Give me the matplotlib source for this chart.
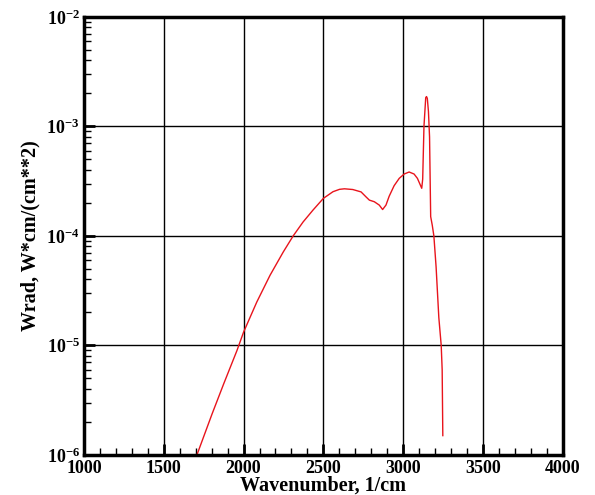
import matplotlib.pyplot as plt
import numpy as np
from matplotlib.ticker import MultipleLocator, LogLocator, FixedLocator

# spectrum
wavenumber = [1708, 1803, 1876, 1959, 2000, 2083, 2166, 2249, 2311, 2373,
              2435, 2500, 2560, 2601, 2632, 2684, 2736, 2767, 2788, 2819,
              2850, 2871, 2892, 2912, 2943, 2975, 3006, 3037, 3068, 3089,
              3116, 3122, 3130, 3141, 3146, 3151, 3158, 3165, 3172, 3182,
              3192, 3206, 3223, 3238, 3244, 3248]
wrad = [1.0e-6, 2.37e-6, 4.47e-6, 9.0e-6, 1.32e-5, 2.49e-5, 4.37e-5, 7.14e-5, 1.0e-4, 1.34e-4,
        1.72e-4, 2.2e-4, 2.53e-4, 2.66e-4, 2.69e-4, 2.65e-4, 2.52e-4, 2.27e-4, 2.12e-4, 2.05e-4,
        1.91e-4, 1.74e-4, 1.91e-4, 2.3e-4, 2.87e-4, 3.35e-4, 3.67e-4, 3.83e-4, 3.67e-4, 3.35e-4,
        2.72e-4, 3.3e-4, 1.0e-3, 1.83e-3, 1.87e-3, 1.8e-3, 1.37e-3, 8.0e-4, 1.5e-4, 1.25e-4,
        1.0e-4, 5.2e-5, 1.8e-5, 1.0e-5, 6.0e-6, 1.5e-6]

y_major = [1e-6, 1e-5, 1e-4, 1e-3, 1e-2]
y_labels = [r"$10^{-6}$", r"$10^{-5}$", r"$10^{-4}$", r"$10^{-3}$", r"$10^{-2}$"]

plt.rcParams["font.family"] = ["Liberation Serif", "DejaVu Serif"]
plt.rcParams["font.weight"] = "bold"
plt.rcParams["mathtext.fontset"] = "custom"
plt.rcParams["mathtext.rm"] = "Liberation Serif:bold"
plt.rcParams["mathtext.bf"] = "Liberation Serif:bold"
plt.rcParams["mathtext.it"] = "Liberation Serif:bold"
plt.rcParams["mathtext.default"] = "bf"

fig = plt.figure(figsize=(5.95, 4.95), dpi=100)
ax = fig.add_axes([0.141, 0.081, 0.805, 0.885])

ax.plot(wavenumber, wrad, color="#E8141C", lw=1.0)

ax.set_yscale("log")
ax.set_xlim(1000, 4000)
ax.set_ylim(1e-6, 1e-2)

ax.xaxis.set_major_locator(MultipleLocator(500))
ax.xaxis.set_minor_locator(MultipleLocator(100))
ax.yaxis.set_major_locator(FixedLocator(y_major))
ax.set_yticklabels(y_labels)
ax.yaxis.set_minor_locator(LogLocator(base=10, subs=np.arange(2, 10)))

ax.grid(True, which="major", color="black", lw=1.0)
ax.tick_params(which="both", direction="in", top=False, right=False, labelsize=13)
ax.tick_params(which="major", length=8, width=2)
ax.tick_params(which="minor", length=5, width=1)
ax.tick_params(axis="x", pad=3.5)
ax.tick_params(axis="y", pad=3)
for lab in ax.get_xticklabels() + ax.get_yticklabels():
    lab.set_fontweight("bold")

for s in ax.spines.values():
    s.set_linewidth(2.5)

ax.set_xlabel("Wavenumber, 1/cm", fontsize=14.5, fontweight="bold", labelpad=-1)
ax.set_ylabel("Wrad, W*cm/(cm**2)", fontsize=14.5, fontweight="bold", labelpad=4)

fig.savefig("out.png", dpi=100)
